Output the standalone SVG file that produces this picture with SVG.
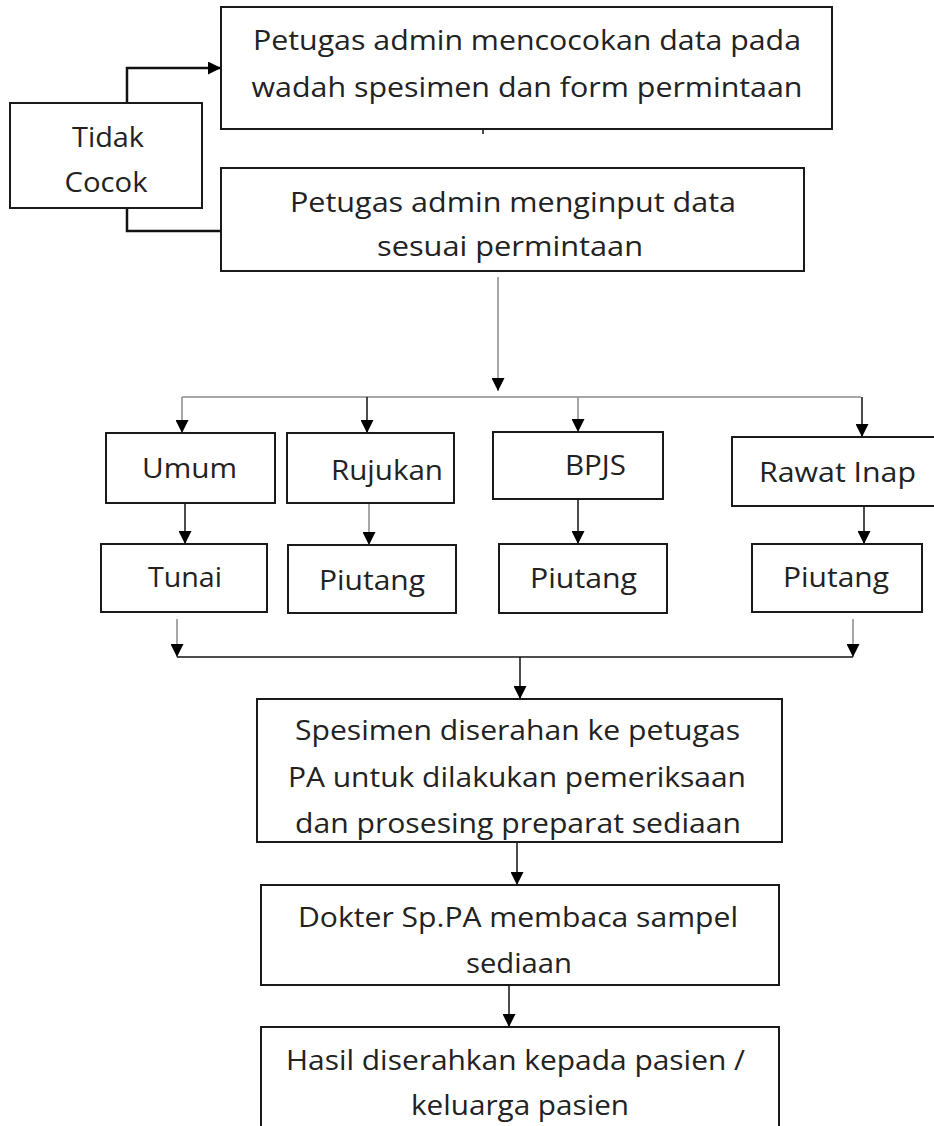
<svg xmlns="http://www.w3.org/2000/svg" width="934" height="1126" viewBox="0 0 934 1126">
<style>
.box{fill:#fff;stroke:#1a1a1a;stroke-width:2}
.t{font-family:"Open Sans","Liberation Sans",sans-serif;font-size:28px;fill:#222;text-anchor:middle}
.c{fill:none;stroke:#111;stroke-width:1.5}
.g{fill:none;stroke:#8a8a8a;stroke-width:1.5}
.k{fill:none;stroke:#111;stroke-width:2.5}
</style>
<defs>
<marker id="ah" viewBox="0 0 14 14" refX="14" refY="7" markerWidth="13" markerHeight="13" markerUnits="userSpaceOnUse" orient="auto">
<path d="M0,0 L14,7 L0,14 z" fill="#000"/>
</marker>
</defs>
<rect width="934" height="1126" fill="#fff"/>
<g id="connectors">
<path class="k" d="M127,103 V68 H221" marker-end="url(#ah)"/>
<path class="k" d="M127,208 V231 H221"/>
<path class="c" d="M483,129 V134" stroke-width="2"/>
<path class="g" d="M498,277 V391" marker-end="url(#ah)"/>
<path class="g" d="M182,397 H861"/>
<path class="g" d="M182,397 V433" marker-end="url(#ah)"/>
<path class="c" d="M367,397 V433" marker-end="url(#ah)"/>
<path class="g" d="M578,397 V432" marker-end="url(#ah)"/>
<path class="c" d="M862,397 V437" marker-end="url(#ah)"/>
<path class="c" d="M185,503 V544" marker-end="url(#ah)"/>
<path class="g" d="M369,503 V545" marker-end="url(#ah)"/>
<path class="c" d="M578,499 V544" marker-end="url(#ah)"/>
<path class="c" d="M864,506 V544" marker-end="url(#ah)"/>
<path class="g" d="M177,619 V657" marker-end="url(#ah)"/>
<path class="g" d="M853,619 V657" marker-end="url(#ah)"/>
<path class="c" d="M177,657 H853"/>
<path class="c" d="M520,657 V699" marker-end="url(#ah)"/>
<path class="c" d="M517,843 V885" marker-end="url(#ah)"/>
<path class="c" d="M509,986 V1027" marker-end="url(#ah)"/>
</g>
<g id="n-cocokkan">
<rect class="box" x="221" y="7" width="611" height="122"/>
<text class="t" x="527" y="50" textLength="548" lengthAdjust="spacingAndGlyphs">Petugas admin mencocokan data pada</text>
<text class="t" x="527" y="97" textLength="551" lengthAdjust="spacingAndGlyphs">wadah spesimen dan form permintaan</text>
</g>
<g id="n-tidak">
<rect class="box" x="10" y="103" width="192" height="105"/>
<text class="t" x="108" y="147" textLength="72" lengthAdjust="spacingAndGlyphs">Tidak</text>
<text class="t" x="106" y="192" textLength="83" lengthAdjust="spacingAndGlyphs">Cocok</text>
</g>
<g id="n-input">
<rect class="box" x="221" y="168" width="583" height="103"/>
<text class="t" x="513" y="212" textLength="446" lengthAdjust="spacingAndGlyphs">Petugas admin menginput data</text>
<text class="t" x="510" y="256" textLength="266" lengthAdjust="spacingAndGlyphs">sesuai permintaan</text>
</g>
<g id="n-umum">
<rect class="box" x="106" y="433" width="169" height="70"/>
<text class="t" x="189.5" y="478" textLength="95" lengthAdjust="spacingAndGlyphs">Umum</text>
</g>
<g id="n-rujukan">
<rect class="box" x="287" y="433" width="167" height="70"/>
<text class="t" x="387" y="480" textLength="112" lengthAdjust="spacingAndGlyphs">Rujukan</text>
</g>
<g id="n-bpjs">
<rect class="box" x="493" y="432" width="170" height="67"/>
<text class="t" x="595.5" y="475" textLength="61" lengthAdjust="spacingAndGlyphs">BPJS</text>
</g>
<g id="n-rawat">
<rect class="box" x="732" y="437" width="210" height="69"/>
<text class="t" x="837.5" y="482" textLength="157" lengthAdjust="spacingAndGlyphs">Rawat Inap</text>
</g>
<g id="n-tunai">
<rect class="box" x="101" y="544" width="166" height="68"/>
<text class="t" x="185" y="587" textLength="74" lengthAdjust="spacingAndGlyphs">Tunai</text>
</g>
<g id="n-piutang1">
<rect class="box" x="288" y="545" width="168" height="68"/>
<text class="t" x="372" y="590" textLength="106" lengthAdjust="spacingAndGlyphs">Piutang</text>
</g>
<g id="n-piutang2">
<rect class="box" x="499" y="544" width="168" height="69"/>
<text class="t" x="583.5" y="588" textLength="107" lengthAdjust="spacingAndGlyphs">Piutang</text>
</g>
<g id="n-piutang3">
<rect class="box" x="752" y="544" width="170" height="68"/>
<text class="t" x="836" y="587" textLength="106" lengthAdjust="spacingAndGlyphs">Piutang</text>
</g>
<g id="n-spesimen">
<rect class="box" x="257" y="699" width="525" height="143"/>
<text class="t" x="517.5" y="740" textLength="445" lengthAdjust="spacingAndGlyphs">Spesimen diserahan ke petugas</text>
<text class="t" x="517" y="787" textLength="458" lengthAdjust="spacingAndGlyphs">PA untuk dilakukan pemeriksaan</text>
<text class="t" x="518" y="833" textLength="446" lengthAdjust="spacingAndGlyphs">dan prosesing preparat sediaan</text>
</g>
<g id="n-dokter">
<rect class="box" x="261" y="885" width="518" height="100"/>
<text class="t" x="518" y="927" textLength="440" lengthAdjust="spacingAndGlyphs">Dokter Sp.PA membaca sampel</text>
<text class="t" x="519" y="973" textLength="106" lengthAdjust="spacingAndGlyphs">sediaan</text>
</g>
<g id="n-hasil">
<rect class="box" x="261" y="1027" width="518" height="110"/>
<text class="t" x="515.5" y="1070" textLength="459" lengthAdjust="spacingAndGlyphs">Hasil diserahkan kepada pasien /</text>
<text class="t" x="520" y="1115" textLength="218" lengthAdjust="spacingAndGlyphs">keluarga pasien</text>
</g>
</svg>
